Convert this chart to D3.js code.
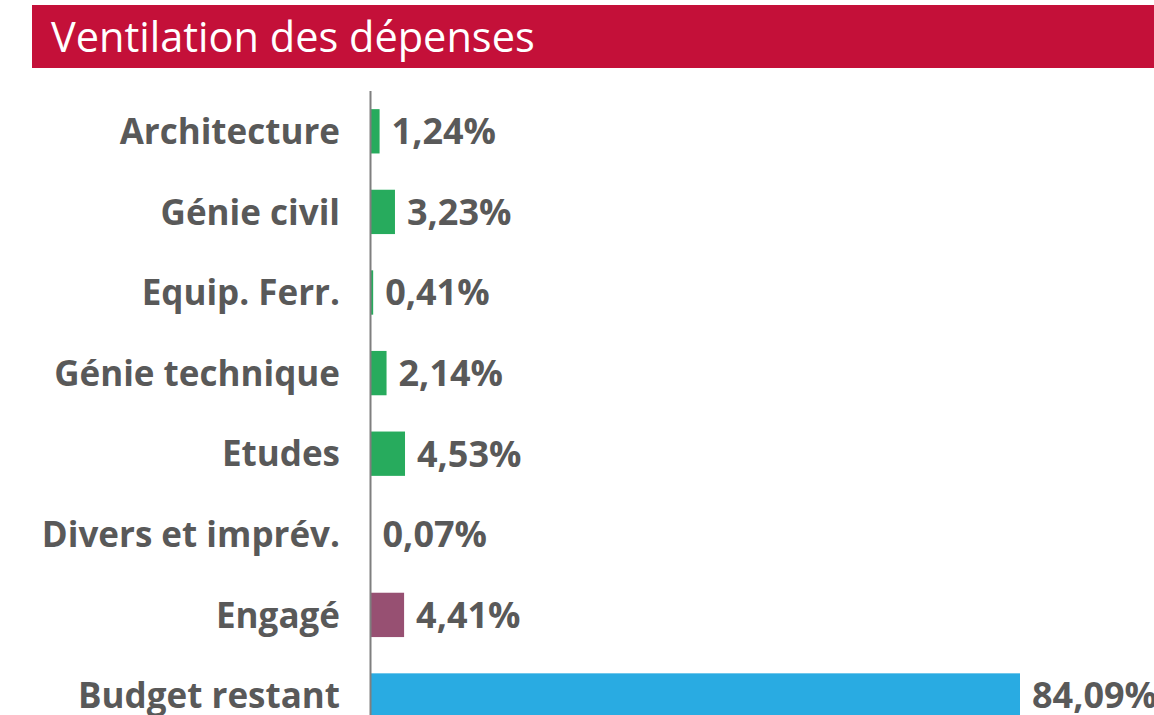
<!DOCTYPE html>
<html>
<head>
<meta charset="utf-8">
<script src="https://cdn.jsdelivr.net/npm/d3@7"></script>
<style>
  body { margin: 0; background: #fff; }
  svg { display: block; font-family: "Open Sans", Lato, sans-serif; }
</style>
</head>
<body>
<div id="chart"></div>
<script>
const width = 1154;
const height = 715;

const categories = ["Architecture", "Génie civil", "Equip. Ferr.", "Génie technique", "Etudes", "Divers et imprév.", "Engagé", "Budget restant"];
const values = [1.24, 3.23, 0.41, 2.14, 4.53, 0.07, 4.41, 84.09];
const barColors = ["#27ab5d", "#27ab5d", "#27ab5d", "#27ab5d", "#27ab5d", "#27ab5d", "#975072", "#29abe2"];

const svg = d3.select("#chart").append("svg")
  .attr("width", width)
  .attr("height", height);

// title band
svg.append("rect")
  .attr("x", 32)
  .attr("y", 5)
  .attr("width", width - 32)
  .attr("height", 63)
  .attr("fill", "#c41039");

svg.append("text")
  .attr("x", 51)
  .attr("y", 52)
  .attr("fill", "#fff")
  .style("font-size", "41.5px")
  .style("font-weight", 400)
  .text("Ventilation des dépenses");

const x = d3.scaleLinear()
  .domain([0, 84.09])
  .range([370, 1020]);

const y = d3.scaleBand()
  .domain(categories)
  .range([91, 91 + 80.6 * categories.length])
  .paddingInner(0.45)
  .paddingOuter(0.225);

svg.selectAll("rect.bar")
  .data(values)
  .enter()
  .append("rect")
  .attr("class", "bar")
  .attr("x", x(0))
  .attr("y", (d, i) => y(categories[i]))
  .attr("width", d => x(d) - x(0))
  .attr("height", y.bandwidth())
  .attr("fill", (d, i) => barColors[i]);

// category labels
svg.selectAll("text.cat")
  .data(categories)
  .enter()
  .append("text")
  .attr("class", "cat")
  .attr("x", 340)
  .attr("y", d => y(d) + y.bandwidth() / 2)
  .attr("dy", "0.36em")
  .attr("text-anchor", "end")
  .attr("fill", "#595959")
  .style("font-size", "35px")
  .style("font-weight", 700)
  .text(d => d);

// value labels
svg.selectAll("text.val")
  .data(values)
  .enter()
  .append("text")
  .attr("class", "val")
  .attr("x", d => x(d) + 12)
  .attr("y", (d, i) => y(categories[i]) + y.bandwidth() / 2)
  .attr("dy", "0.36em")
  .attr("fill", "#595959")
  .style("font-size", "36px")
  .style("font-weight", 700)
  .text(d => d.toFixed(2).replace(".", ",") + "%");

// axis line
svg.append("line")
  .attr("x1", 370.5)
  .attr("x2", 370.5)
  .attr("y1", 91)
  .attr("y2", height)
  .attr("stroke", "#7f7f7f")
  .attr("stroke-width", 2);
</script>
</body>
</html>
